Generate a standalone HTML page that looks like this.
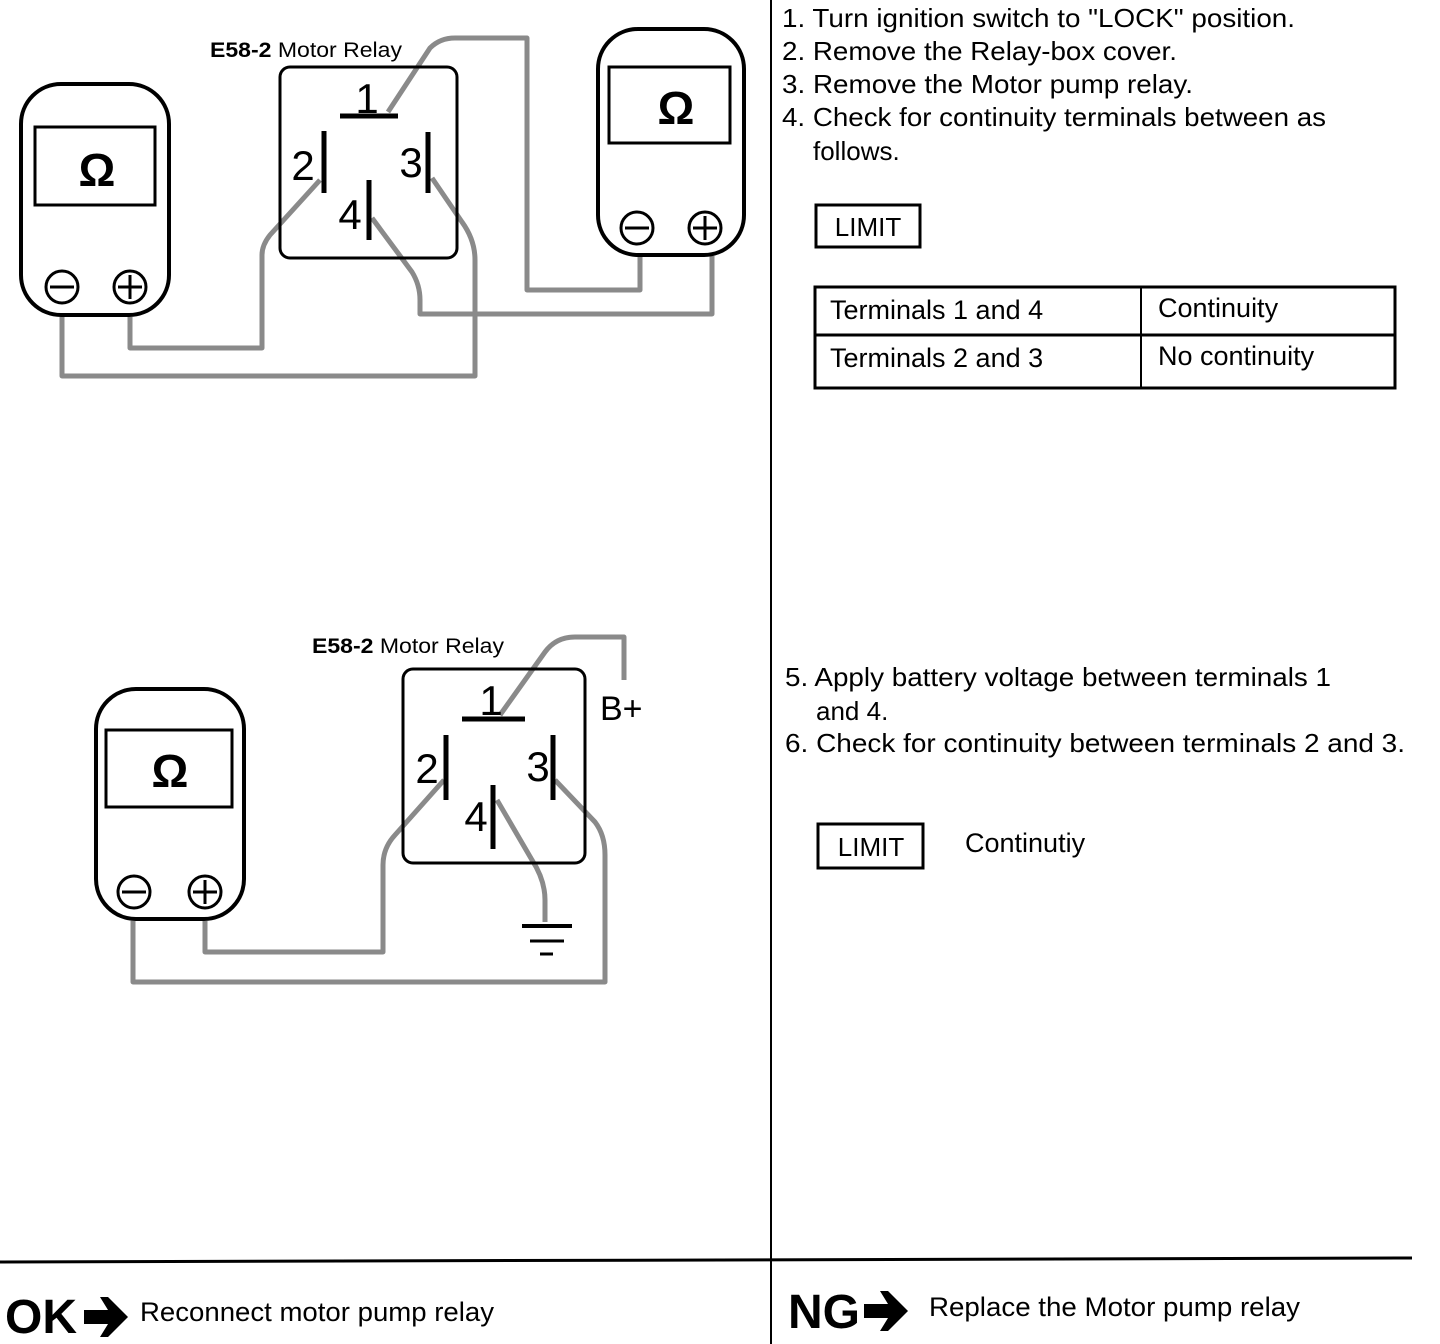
<!DOCTYPE html>
<html><head><meta charset="utf-8"><style>
html,body{margin:0;padding:0;background:#fff}
svg{display:block}
text{font-family:"Liberation Sans",Arial,sans-serif;fill:#000}
.w{fill:none;stroke:#8a8a8a;stroke-width:5;stroke-linejoin:round}
.b{fill:none;stroke:#000}
</style></head><body>
<svg width="1440" height="1344" viewBox="0 0 1440 1344" xmlns="http://www.w3.org/2000/svg">
<line x1="771" y1="0" x2="771" y2="1344" stroke="#000" stroke-width="2"/>
<line x1="0" y1="1262" x2="1412" y2="1258" stroke="#000" stroke-width="3"/>

<path class="w" d="M388,112 L430,48 Q440,38 455,38 L527,38 L527,290 L640,290 L640,256"/>
<path class="w" d="M320,180 L270,235 Q262,245 262,255 L262,348 L130,348 L130,317"/>
<path class="w" d="M372,218 L412,272 Q420,285 420,300 L420,314 L712,314 L712,256"/>
<path class="w" d="M432,178 L462,222 Q475,240 475,260 L475,376 L62,376 L62,317"/>
<rect class="b" x="21" y="84" width="148" height="231" rx="40" stroke-width="4"/>
<rect class="b" x="35" y="127" width="120" height="78" stroke-width="3"/>
<text x="97" y="186" font-size="46" font-weight="bold" text-anchor="middle">Ω</text>
<circle class="b" cx="62" cy="287" r="16" stroke-width="3"/><line x1="50" y1="287" x2="74" y2="287" stroke="#000" stroke-width="3"/>
<circle class="b" cx="130" cy="287" r="16" stroke-width="3"/><line x1="118" y1="287" x2="142" y2="287" stroke="#000" stroke-width="3"/><line x1="130" y1="275" x2="130" y2="299" stroke="#000" stroke-width="3"/>
<rect class="b" x="598" y="29" width="146" height="226" rx="40" stroke-width="4"/>
<rect class="b" x="609" y="67" width="121" height="76" stroke-width="3"/>
<text x="676" y="124" font-size="46" font-weight="bold" text-anchor="middle">Ω</text>
<circle class="b" cx="637" cy="228" r="16" stroke-width="3"/><line x1="625" y1="228" x2="649" y2="228" stroke="#000" stroke-width="3"/>
<circle class="b" cx="705" cy="228" r="16" stroke-width="3"/><line x1="693" y1="228" x2="717" y2="228" stroke="#000" stroke-width="3"/><line x1="705" y1="216" x2="705" y2="240" stroke="#000" stroke-width="3"/>
<text x="210" y="57" font-size="21" textLength="192" lengthAdjust="spacingAndGlyphs"><tspan font-weight="bold">E58-2</tspan>  Motor  Relay</text>
<rect class="b" x="280" y="67" width="177" height="191" rx="10" stroke-width="3"/>
<text x="367" y="113" font-size="42" text-anchor="middle">1</text>
<line x1="340" y1="116" x2="398" y2="116" stroke="#000" stroke-width="5"/>
<text x="303" y="180" font-size="42" text-anchor="middle">2</text>
<line x1="324" y1="131" x2="324" y2="193" stroke="#000" stroke-width="5"/>
<text x="411" y="177" font-size="42" text-anchor="middle">3</text>
<line x1="428" y1="132" x2="428" y2="193" stroke="#000" stroke-width="5"/>
<text x="350" y="229" font-size="42" text-anchor="middle">4</text>
<line x1="369" y1="180" x2="369" y2="240" stroke="#000" stroke-width="5"/>

<path class="w" d="M500,715 L545,652 Q556,637 575,637 L624,637 L624,680"/>
<path class="w" d="M444,780 L395,835 Q383,848 383,865 L383,952 L205,952 L205,921"/>
<path class="w" d="M555,780 L595,822 Q605,835 605,855 L605,982 L133,982 L133,921"/>
<path class="w" d="M497,800 L532,860 Q545,880 545,900 L545,922"/>
<line x1="522" y1="926" x2="572" y2="926" stroke="#000" stroke-width="4"/>
<line x1="530" y1="941" x2="564" y2="941" stroke="#000" stroke-width="3"/>
<line x1="540" y1="954" x2="553" y2="954" stroke="#000" stroke-width="3"/>
<rect class="b" x="96" y="689" width="148" height="230" rx="40" stroke-width="4"/>
<rect class="b" x="106" y="730" width="126" height="77" stroke-width="3"/>
<text x="170" y="787" font-size="46" font-weight="bold" text-anchor="middle">Ω</text>
<circle class="b" cx="134" cy="892" r="16" stroke-width="3"/><line x1="122" y1="892" x2="146" y2="892" stroke="#000" stroke-width="3"/>
<circle class="b" cx="205" cy="892" r="16" stroke-width="3"/><line x1="193" y1="892" x2="217" y2="892" stroke="#000" stroke-width="3"/><line x1="205" y1="880" x2="205" y2="904" stroke="#000" stroke-width="3"/>
<text x="312" y="653" font-size="21" textLength="192" lengthAdjust="spacingAndGlyphs"><tspan font-weight="bold">E58-2</tspan>  Motor  Relay</text>
<rect class="b" x="403" y="669" width="182" height="194" rx="10" stroke-width="3"/>
<text x="491" y="715" font-size="42" text-anchor="middle">1</text>
<line x1="462" y1="719" x2="525" y2="719" stroke="#000" stroke-width="5"/>
<text x="427" y="783" font-size="42" text-anchor="middle">2</text>
<line x1="446" y1="735" x2="446" y2="800" stroke="#000" stroke-width="5"/>
<text x="538" y="781" font-size="42" text-anchor="middle">3</text>
<line x1="553" y1="735" x2="553" y2="800" stroke="#000" stroke-width="5"/>
<text x="476" y="831" font-size="42" text-anchor="middle">4</text>
<line x1="493" y1="785" x2="493" y2="849" stroke="#000" stroke-width="5"/>
<text x="600" y="720" font-size="34">B+</text>

<g font-size="26">
<text x="782" y="27" textLength="513" lengthAdjust="spacingAndGlyphs">1. Turn ignition switch to "LOCK" position.</text>
<text x="782" y="60" textLength="395" lengthAdjust="spacingAndGlyphs">2. Remove the Relay-box cover.</text>
<text x="782" y="93" textLength="411" lengthAdjust="spacingAndGlyphs">3. Remove the Motor pump relay.</text>
<text x="782" y="126" textLength="544" lengthAdjust="spacingAndGlyphs">4. Check for continuity terminals between as</text>
<text x="813" y="160">follows.</text>
</g>
<rect class="b" x="816" y="205" width="104" height="42" stroke-width="3"/>
<text x="868" y="236" font-size="26" text-anchor="middle">LIMIT</text>
<rect class="b" x="815" y="287" width="580" height="101" stroke-width="3"/>
<line x1="815" y1="335" x2="1395" y2="335" stroke="#000" stroke-width="3"/>
<line x1="1141" y1="287" x2="1141" y2="388" stroke="#000" stroke-width="2"/>
<text x="830" y="319" font-size="27">Terminals 1 and 4</text>
<text x="1158" y="317" font-size="27">Continuity</text>
<text x="830" y="367" font-size="27">Terminals 2 and 3</text>
<text x="1158" y="365" font-size="27">No continuity</text>

<g font-size="26">
<text x="785" y="686" textLength="546" lengthAdjust="spacingAndGlyphs">5. Apply battery voltage between terminals 1</text>
<text x="816" y="720">and 4.</text>
<text x="785" y="752" textLength="620" lengthAdjust="spacingAndGlyphs">6. Check for continuity between terminals 2 and  3.</text>
</g>
<rect class="b" x="818" y="824" width="105" height="44" stroke-width="3"/>
<text x="871" y="856" font-size="26" text-anchor="middle">LIMIT</text>
<text x="965" y="852" font-size="27">Continutiy</text>

<text x="5" y="1333" font-size="48" font-weight="bold">OK</text>
<polygon points="84,1310 108,1310 100,1297 108,1297 128,1317 108,1337 100,1337 108,1324 84,1324" fill="#000"/>
<text x="140" y="1321" font-size="27" textLength="354" lengthAdjust="spacingAndGlyphs">Reconnect motor pump relay</text>
<text x="788" y="1328" font-size="48" font-weight="bold">NG</text>
<polygon points="864,1304 888,1304 880,1291 888,1291 908,1311 888,1331 880,1331 888,1318 864,1318" fill="#000"/>
<text x="929" y="1316" font-size="27" textLength="371" lengthAdjust="spacingAndGlyphs">Replace the Motor pump relay</text>
</svg>
</body></html>
